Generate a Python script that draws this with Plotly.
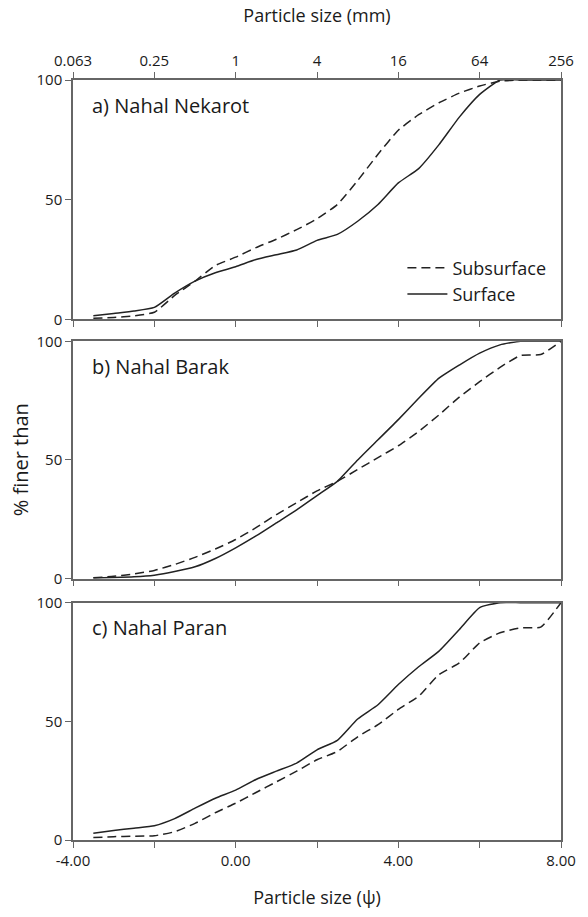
import plotly.graph_objects as go

# particle size in psi units (sieve classes)
psi = [-3.5, -3.0, -2.5, -2.0, -1.5, -1.0, -0.5, 0.0, 0.5, 1.0, 1.5, 2.0,
       2.5, 3.0, 3.5, 4.0, 4.5, 5.0, 5.5, 6.0, 6.5, 7.0, 7.5, 8.0]

# a) Nahal Nekarot
nek_sub = [0.5, 0.8, 1.5, 3.0, 10.0, 16.0, 22.5, 26.0, 30.0, 33.5, 37.5, 42.0,
           48.0, 58.0, 69.0, 79.0, 85.5, 90.5, 94.5, 97.5, 99.5, 100, 100, 100]
nek_sur = [1.5, 2.5, 3.5, 5.0, 11.0, 16.0, 19.5, 22.0, 25.0, 27.0, 29.0, 33.0,
           35.5, 41.0, 48.0, 57.0, 63.0, 73.0, 84.5, 94.0, 100, 100, 100, 100]
# b) Nahal Barak
bar_sub = [0.4, 1.0, 2.0, 3.5, 6.0, 9.0, 12.5, 16.5, 21.5, 27.0, 32.0, 37.0,
           41.0, 46.0, 51.0, 56.0, 62.0, 69.0, 76.5, 83.0, 89.0, 94.0, 94.4, 100]
bar_sur = [0.3, 0.5, 0.8, 1.5, 3.0, 5.0, 8.5, 13.0, 18.0, 23.5, 29.0, 35.0,
           41.0, 50.0, 58.5, 67.0, 76.0, 84.5, 90.0, 95.0, 98.5, 100, 100, 100]
# c) Nahal Paran
par_sub = [1.0, 1.4, 1.6, 1.8, 3.5, 7.0, 11.5, 15.5, 20.0, 24.5, 29.0, 33.8,
           37.3, 43.5, 48.6, 55.0, 60.6, 69.7, 74.6, 83.0, 87.3, 89.4, 89.7, 100]
par_sur = [2.8, 4.0, 5.0, 6.0, 9.0, 13.4, 17.6, 21.0, 25.5, 29.0, 32.4, 38.0,
           42.0, 51.0, 57.0, 65.5, 73.0, 79.6, 88.7, 97.9, 100, 100, 100, 100]

panel_titles = ["a) Nahal Nekarot", "b) Nahal Barak", "c) Nahal Paran"]
psi_ticks = [-4, -2, 0, 2, 4, 6, 8]
mm_labels = ["0.063", "0.25", "1", "4", "16", "64", "256"]
psi_labels = ["-4.00", "", "0.00", "", "4.00", "", "8.00"]
y_ticks = [0, 50, 100]

FONT = "Open Sans"
LINE_C = "#222222"
FRAME_C = "#666666"
TXT_C = "#1a1a1a"

fig = go.Figure()

panels = [(nek_sub, nek_sur), (bar_sub, bar_sur), (par_sub, par_sur)]
for i, (sub, sur) in enumerate(panels):
    ax = "" if i == 0 else str(i + 1)
    fig.add_trace(go.Scatter(x=psi, y=sub, mode="lines", name="Subsurface",
                             xaxis="x" + ax, yaxis="y" + ax, showlegend=(i == 0),
                             line=dict(color=LINE_C, width=1.5, dash="9px,5px",
                                       shape="spline", smoothing=0.5)))
    fig.add_trace(go.Scatter(x=psi, y=sur, mode="lines", name="Surface",
                             xaxis="x" + ax, yaxis="y" + ax, showlegend=(i == 0),
                             line=dict(color=LINE_C, width=1.5,
                                       shape="spline", smoothing=0.5)))

domains = [[0.685, 1.0], [0.3438, 0.6562], [0.0, 0.3123]]

common_x = dict(range=[-4, 8], tickvals=psi_ticks, showgrid=False, zeroline=False,
                showline=True, linecolor=FRAME_C, linewidth=1.5,
                ticks="outside", ticklen=6, tickcolor=FRAME_C, tickwidth=1.2,
                tickfont=dict(family=FONT, size=15, color=TXT_C))
common_y = dict(range=[0, 100], tickvals=y_ticks, showgrid=False, zeroline=False,
                showline=True, linecolor=FRAME_C, linewidth=1.5, mirror=True,
                ticks="outside", ticklen=6, tickcolor=FRAME_C, tickwidth=1.2,
                tickfont=dict(family=FONT, size=15, color=TXT_C))

layout = dict(
    width=588, height=917,
    margin=dict(l=73, r=19, t=80, b=75),
    plot_bgcolor="white", paper_bgcolor="white",
    font=dict(family=FONT, color=TXT_C),
    legend=dict(x=0.675, y=0.777, xanchor="left", yanchor="top",
                bgcolor="rgba(0,0,0,0)", font=dict(family=FONT, size=18, color=TXT_C),
                tracegroupgap=0, itemwidth=40),
)

# panel a: labels on top (mm), ticks mirrored at bottom
layout["xaxis"] = dict(common_x, anchor="y", side="top", mirror="ticks",
                       ticktext=mm_labels, showticklabels=True,
                       title=dict(text="Particle size (mm)", standoff=23,
                                  font=dict(family=FONT, size=18, color=TXT_C)))
layout["yaxis"] = dict(common_y, domain=domains[0], anchor="x")
layout["xaxis2"] = dict(common_x, anchor="y2", mirror=True, showticklabels=False,
                        matches="x")
layout["yaxis2"] = dict(common_y, domain=domains[1], anchor="x2")
layout["xaxis3"] = dict(common_x, anchor="y3", mirror=True, ticktext=psi_labels,
                        showticklabels=True, matches="x",
                        title=dict(text="Particle size (ψ)", standoff=23,
                                   font=dict(family=FONT, size=18, color=TXT_C)))
layout["yaxis3"] = dict(common_y, domain=domains[2], anchor="x3")

annotations = []
for i, t in enumerate(panel_titles):
    ax = "" if i == 0 else str(i + 1)
    annotations.append(dict(text=t, xref="x" + ax + " domain", yref="y" + ax + " domain",
                            x=0.035, y=0.895, xanchor="left", yanchor="middle",
                            showarrow=False,
                            font=dict(family=FONT, size=20, color=TXT_C)))
annotations.append(dict(text="% finer than", xref="paper", yref="y2 domain",
                        x=-0.108, y=0.5, textangle=-90, showarrow=False,
                        xanchor="center", yanchor="middle",
                        font=dict(family=FONT, size=20, color=TXT_C)))
layout["annotations"] = annotations

fig.update_layout(**layout)
fig.write_html("out.html")
